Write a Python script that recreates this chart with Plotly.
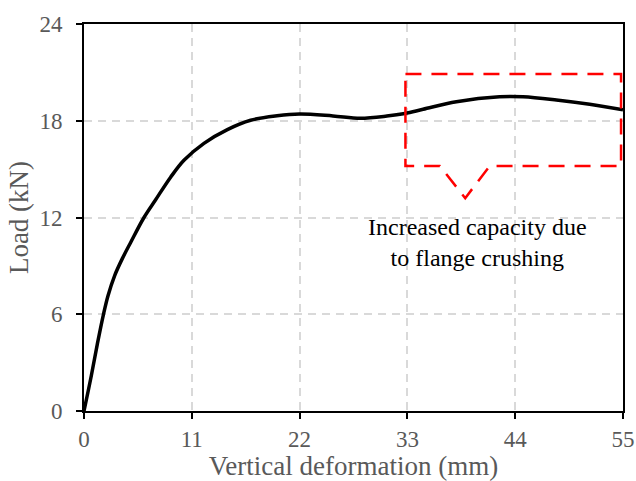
import plotly.graph_objects as go

# Load–deformation curve
deformation_mm = [0, 0.75, 1.36, 1.97, 2.45, 3.13, 3.91, 4.76, 6.12, 7.31, 8.84, 10.2,
                  12.24, 14.63, 17.0, 19.7, 22.0, 25.4, 28.2, 30.9, 32.75, 34.6, 38.0,
                  42.4, 44.8, 48.2, 51.6, 55.0]
load_kN = [0, 2.2, 4.15, 5.95, 7.15, 8.4, 9.45, 10.45, 12.0, 13.1, 14.5, 15.55,
           16.6, 17.45, 18.03, 18.31, 18.42, 18.3, 18.16, 18.29, 18.45, 18.71, 19.18,
           19.49, 19.49, 19.29, 19.02, 18.68]

x_ticks = [0, 11, 22, 33, 44, 55]
y_ticks = [0, 6, 12, 18, 24]

# Callout (data coordinates)
box_x = [32.8, 54.8]
box_y = [15.2, 20.9]
notch_x = [36.3, 38.9, 41.4]
notch_tip_y = 13.2
note_text = "Increased capacity due<br>to flange crushing"
note_pos = [40.2, 10.45]

fig = go.Figure()
fig.add_trace(go.Scatter(
    x=deformation_mm, y=load_kN, mode="lines",
    line=dict(color="black", width=3.5, shape="spline", smoothing=1.0),
    showlegend=False, hoverinfo="skip"))

path = (f"M {box_x[0]},{box_y[1]} L {box_x[1]},{box_y[1]} L {box_x[1]},{box_y[0]} "
        f"L {notch_x[2]},{box_y[0]} L {notch_x[1]},{notch_tip_y} L {notch_x[0]},{box_y[0]} "
        f"L {box_x[0]},{box_y[0]} Z")
fig.add_shape(type="path", path=path, xref="x", yref="y",
              line=dict(color="#ff0000", width=2.5, dash="16px,10px"))

fig.add_annotation(x=note_pos[0], y=note_pos[1], xref="x", yref="y", text=note_text,
                   showarrow=False, font=dict(family="Liberation Serif", size=24, color="black"),
                   align="center")

axis_common = dict(
    showline=True, linecolor="black", linewidth=2, mirror=True,
    ticks="outside", ticklen=6, tickwidth=1.5, tickcolor="black",
    showgrid=True, gridcolor="#d9d9d9", gridwidth=1.5, griddash="8px,6px",
    zeroline=False, automargin=False,
    tickfont=dict(family="Liberation Serif", size=23, color="#595959"),
)

fig.update_xaxes(range=[0, 55], tickvals=x_ticks,
                 title=dict(text="Vertical deformation (mm)", standoff=0,
                            font=dict(family="Liberation Serif", size=27, color="#595959")),
                 **axis_common)
fig.update_yaxes(range=[0, 24], tickvals=y_ticks, ticklabelstandoff=9,
                 title=dict(text="Load (kN)", standoff=3,
                            font=dict(family="Liberation Serif", size=27, color="#595959")),
                 **axis_common)

fig.update_layout(width=636, height=481, margin=dict(l=84, r=13, t=24, b=70),
                  plot_bgcolor="white", paper_bgcolor="white")

fig.write_html("out.html", config={"displayModeBar": False},
               post_script="document.body.style.margin='0';document.body.style.overflow='hidden';")
